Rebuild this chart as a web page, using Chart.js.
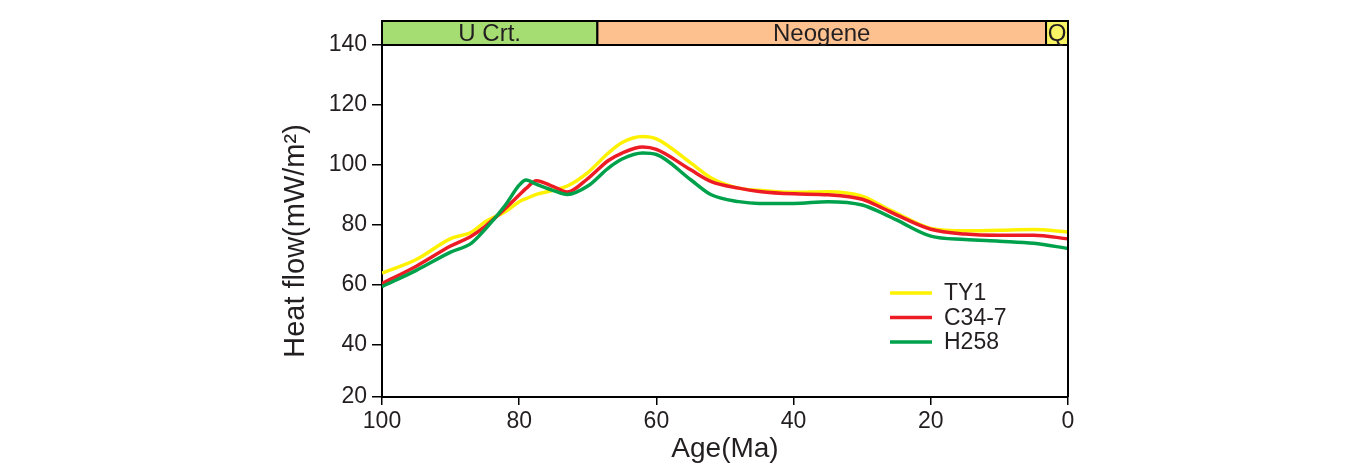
<!DOCTYPE html>
<html>
<head>
<meta charset="utf-8">
<script src="https://cdn.jsdelivr.net/npm/chart.js@4"></script>
<style>
  html, body { margin: 0; padding: 0; background: #fff; }
</style>
</head>
<body>
<canvas id="heatChart" width="1352" height="473"></canvas>
<script>
// data
const ages = [100, 95, 90, 87, 85, 82, 80, 79, 77.5, 75, 73, 70, 67, 65, 62, 60, 55, 52, 48, 45, 40, 35, 30, 27, 25, 20, 15, 10, 5, 0];
const ty1 = [64, 68.5, 75.5, 77.6, 81, 84.5, 87.8, 88.8, 90.2, 91.6, 93, 97.5, 104, 107.5, 109.5, 108.7, 100.7, 95.7, 92.3, 91.6, 90.9, 91.1, 89.6, 86.2, 84, 78.9, 78.1, 78.3, 78.5, 77.7];
const c347 = [60.5, 66.3, 73, 76.3, 79.5, 85.6, 90, 92.2, 94.8, 92.8, 91, 95.5, 101.5, 104, 106, 105.2, 98.4, 94.5, 92.3, 91.2, 90.4, 90.1, 88.6, 85.6, 83.4, 78.6, 77, 76.6, 76.6, 75.4];
const h258 = [59.5, 64.9, 71, 73.9, 78.5, 86.7, 93.3, 95, 93.6, 91.5, 90.2, 93, 99, 102, 104, 103.5, 95.1, 90.1, 87.8, 87.2, 87.2, 87.8, 86.7, 83.9, 81.7, 76.3, 75.2, 74.6, 73.9, 72.2];
const seriesNames = ["TY1", "C34-7", "H258"];

const xTicks = [100, 80, 60, 40, 20, 0];
const yTicks = [20, 40, 60, 80, 100, 120, 140];
const yFloor = 22.7; // the original puts its "20" label on the axis floor

// stratigraphic band along the top
const periodNames = ["U Crt.", "Neogene", "Q"];
const periodStart = [100, 68.6, 3.2];
const periodEnd = [68.6, 3.2, 0];

const periodColors = ["#a6dd72", "#fdc18f", "#f8f464"];
const lineColors = ["#fff200", "#ed1c24", "#00a14b"];
const FONT = '"Liberation Sans", Arial, sans-serif';
const INK = "#231f20";

const toPoints = (vals) => ages.map((a, i) => ({ x: a, y: vals[i] }));

const decor = {
  id: "decor",
  afterDraw(chart) {
    const { ctx, chartArea: a, scales: { x } } = chart;
    ctx.save();

    // right frame
    ctx.strokeStyle = "#000";
    ctx.lineWidth = 2;
    ctx.beginPath();
    ctx.moveTo(a.right, a.top - 24);
    ctx.lineTo(a.right, a.bottom);
    ctx.stroke();

    // period band
    const top = a.top - 24;
    ctx.font = "24px " + FONT;
    ctx.textAlign = "center";
    ctx.textBaseline = "middle";
    periodNames.forEach((name, i) => {
      const x0 = x.getPixelForValue(periodStart[i]);
      const x1 = x.getPixelForValue(periodEnd[i]);
      ctx.fillStyle = periodColors[i];
      ctx.fillRect(x0, top, x1 - x0, 24);
      ctx.strokeRect(x0, top, x1 - x0, 24);
      ctx.fillStyle = INK;
      ctx.fillText(name, (x0 + x1) / 2, top + 13);
    });

    // legend
    ctx.textAlign = "left";
    ctx.font = "23px " + FONT;
    chart.data.datasets.forEach((ds, i) => {
      const ly = a.top + 248 + i * 24.5;
      const lx = a.right - 178;
      ctx.strokeStyle = ds.borderColor;
      ctx.lineWidth = 3.5;
      ctx.beginPath();
      ctx.moveTo(lx, ly);
      ctx.lineTo(lx + 42, ly);
      ctx.stroke();
      ctx.fillStyle = INK;
      ctx.fillText(ds.label, lx + 54, ly + 1);
    });

    // axis titles
    ctx.textAlign = "center";
    ctx.font = "28px " + FONT;
    ctx.fillText("Age(Ma)", (a.left + a.right) / 2, a.bottom + 52);

    ctx.translate(a.left - 86, (a.top + a.bottom) / 2 + 20);
    ctx.rotate(-Math.PI / 2);
    ctx.font = "29px " + FONT;
    ctx.fillText("Heat flow(mW/m²)", 0, 0);
    ctx.restore();
  }
};

new Chart(document.getElementById("heatChart"), {
  type: "line",
  data: {
    datasets: [ty1, c347, h258].map((vals, i) => ({
      label: seriesNames[i],
      data: toPoints(vals),
      borderColor: lineColors[i],
      borderWidth: 3.5,
      pointRadius: 0,
      cubicInterpolationMode: "monotone",
      fill: false,
      order: 2 - i,
    })),
  },
  options: {
    responsive: false,
    animation: false,
    layout: { padding: { top: 45, right: 284, left: 0, bottom: 0 } },
    plugins: { legend: { display: false }, tooltip: { enabled: false } },
    scales: {
      x: {
        type: "linear",
        min: 0,
        max: 100,
        reverse: true,
        afterBuildTicks: (s) => { s.ticks = xTicks.map((v) => ({ value: v })); },
        afterFit: (s) => { s.height = 76; },
        grid: { drawOnChartArea: false, tickLength: 8, color: "#000", lineWidth: 1.5 },
        border: { color: "#000", width: 2 },
        ticks: { color: INK, font: { family: FONT, size: 23 }, padding: 3, maxRotation: 0 },
      },
      y: {
        min: yFloor,
        max: 140,
        afterBuildTicks: (s) => { s.ticks = yTicks.map((v) => ({ value: v === 20 ? yFloor : v })); },
        afterFit: (s) => { s.width = 382; },
        grid: { drawOnChartArea: false, tickLength: 10, color: "#000", lineWidth: 1.5 },
        border: { color: "#000", width: 2 },
        ticks: {
          color: INK,
          font: { family: FONT, size: 23 },
          padding: 5,
          callback: (v, i) => yTicks[i],
        },
      },
    },
  },
  plugins: [decor],
});
</script>
</body>
</html>
